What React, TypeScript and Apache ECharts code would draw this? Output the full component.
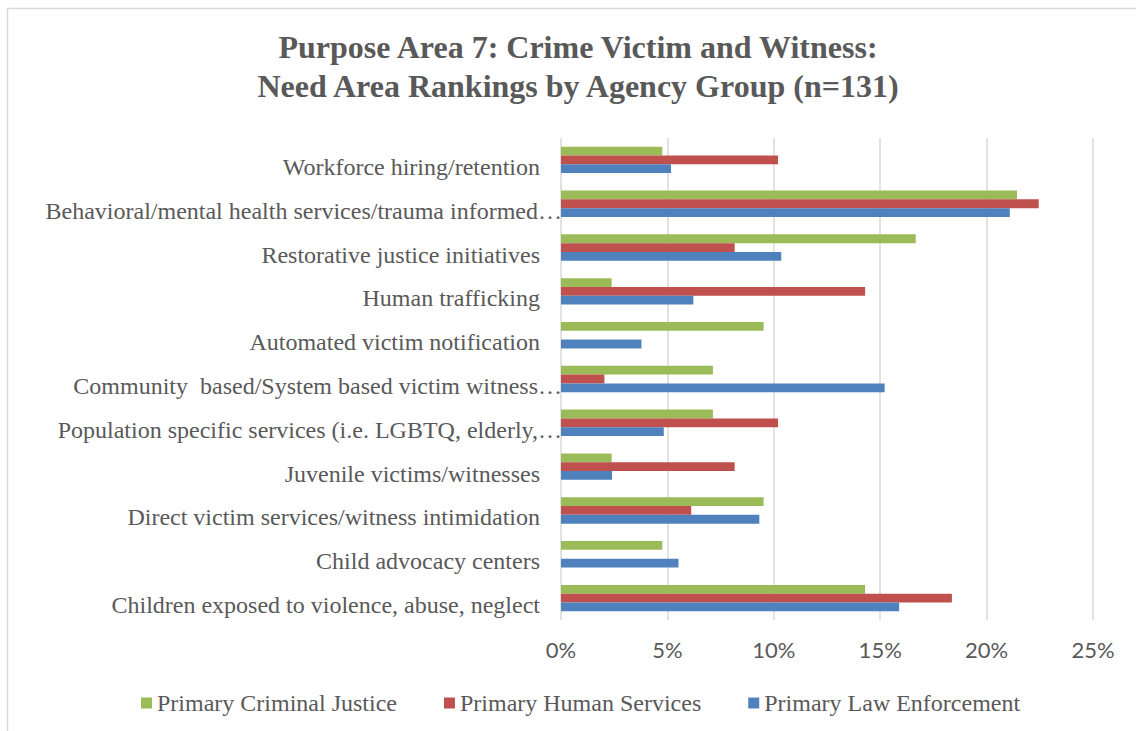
import React, { useEffect, useRef } from "react";
import * as echarts from "echarts";

const categories = [
  "Workforce hiring/retention",
  "Behavioral/mental health services/trauma informed…",
  "Restorative justice initiatives",
  "Human trafficking",
  "Automated victim notification",
  "Community  based/System based victim witness…",
  "Population specific services (i.e. LGBTQ, elderly,…",
  "Juvenile victims/witnesses",
  "Direct victim services/witness intimidation",
  "Child advocacy centers",
  "Children exposed to violence, abuse, neglect",
];

const criminalJustice = [4.76, 21.43, 16.67, 2.38, 9.52, 7.14, 7.14, 2.38, 9.52, 4.76, 14.29];
const humanServices = [10.2, 22.45, 8.16, 14.29, 0, 2.04, 10.2, 8.16, 6.12, 0, 18.37];
const lawEnforcement = [5.17, 21.09, 10.35, 6.22, 3.78, 15.21, 4.83, 2.4, 9.32, 5.52, 15.89];

const xTicks = { min: 0, max: 25, interval: 5 };

const seriesNames = ["Primary Criminal Justice", "Primary Human Services", "Primary Law Enforcement"];
const seriesColors = ["#9BBB59", "#C0504D", "#4F81BD"];

const SERIF = "'Liberation Serif', 'Times New Roman', serif";
const SANS = "Lato, 'Noto Sans', sans-serif";
const GREY = "#595959";

export default function App() {
  const ref = useRef<HTMLDivElement>(null);
  useEffect(() => {
    if (!ref.current) return;
    const chart = echarts.init(ref.current, null, { renderer: "svg" });
    const values = [criminalJustice, humanServices, lawEnforcement];
    const labelStyle = { fontFamily: SERIF, fontSize: 24, color: GREY, lineHeight: 14 };
    chart.setOption({
      animation: false,
      backgroundColor: "#ffffff",
      title: {
        text: "Purpose Area 7: Crime Victim and Witness:\nNeed Area Rankings by Agency Group (n=131)",
        left: 573,
        top: 22,
        textAlign: "center",
        textStyle: {
          fontFamily: SERIF,
          fontSize: 32,
          lineHeight: 39,
          fontWeight: "bold",
          color: GREY,
        },
      },
      graphic: [
        {
          type: "rect",
          shape: { x: 7.5, y: 8.5, width: 1300, height: 1000 },
          style: { fill: "none", stroke: "#d9d9d9", lineWidth: 1.5 },
          silent: true,
        },
      ],
      legend: {
        data: seriesNames,
        left: 136,
        top: 686,
        icon: "rect",
        itemWidth: 11,
        itemHeight: 11,
        itemGap: 47,
        textStyle: { fontFamily: SERIF, fontSize: 24, color: GREY },
      },
      grid: { left: 561, right: 43, top: 138, bottom: 111, containLabel: false },
      xAxis: {
        type: "value",
        min: xTicks.min,
        max: xTicks.max,
        interval: xTicks.interval,
        axisLine: { show: false },
        axisTick: { show: false },
        splitLine: { show: true, lineStyle: { color: "#d9d9d9", width: 1.5 } },
        axisLabel: {
          formatter: "{value}%",
          fontFamily: SANS,
          fontSize: 22,
          color: GREY,
          margin: 18,
        },
      },
      yAxis: {
        type: "category",
        data: categories,
        inverse: true,
        axisLine: { show: false },
        axisTick: { show: false },
        axisLabel: {
          ...labelStyle,
          margin: 21,
          verticalAlign: "top",
          formatter: (v: string) =>
            v.endsWith("…") ? `{t|${v.slice(0, -1)}}{d|…}` : `{t|${v}}`,
          rich: {
            t: { ...labelStyle },
            d: { ...labelStyle, padding: [0, -22, 0, 0] },
          },
        },
      },
      series: seriesNames.map((name, i) => ({
        name,
        type: "bar",
        data: values[i],
        barWidth: 8.8,
        barGap: "0%",
        itemStyle: { color: seriesColors[i] },
      })),
    });
    return () => chart.dispose();
  }, []);
  return (
    <div
      ref={ref}
      style={{ position: "absolute", left: 0, top: 0, width: 1136, height: 731 }}
    />
  );
}
